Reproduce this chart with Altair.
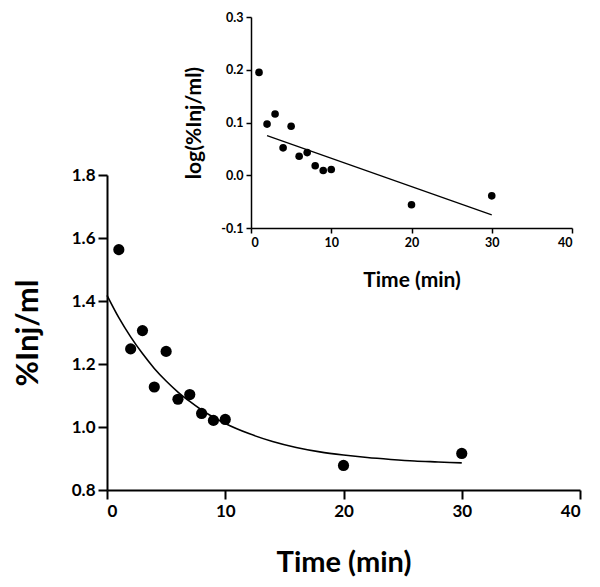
import altair as alt
import pandas as pd

# Main panel data
main_t = [1, 2, 3, 4, 5, 6, 7, 8, 9, 10, 20, 30]
main_v = [1.563, 1.248, 1.306, 1.127, 1.240, 1.088, 1.103, 1.043, 1.021, 1.024, 0.878, 0.916]
# Fitted decay curve
curve_t = [0, 1, 2, 3, 4, 5, 6, 7, 8, 9, 10, 12, 14, 16, 18, 20, 22, 24, 26, 28, 30]
curve_v = [1.418, 1.347, 1.286, 1.233, 1.186, 1.146, 1.111, 1.081, 1.054, 1.031, 1.011,
           0.979, 0.954, 0.935, 0.921, 0.911, 0.903, 0.897, 0.892, 0.889, 0.886]

# Inset data
inset_t = [1, 2, 3, 4, 5, 6, 7, 8, 9, 10, 20, 30]
inset_v = [0.195, 0.097, 0.116, 0.052, 0.093, 0.036, 0.043, 0.018, 0.009, 0.011, -0.056, -0.039]
line_t = [2, 30]
line_v = [0.075, -0.075]

x_ticks = [0, 10, 20, 30, 40]
main_y_ticks = [0.8, 1.0, 1.2, 1.4, 1.6, 1.8]
inset_y_ticks = [-0.1, 0.0, 0.1, 0.2, 0.3]

FONT = "Lato"
W = 473
H = 473

main_df = pd.DataFrame({"t": main_t, "v": main_v})
curve_df = pd.DataFrame({"t": curve_t, "v": curve_v})
inset_df = pd.DataFrame({"t": inset_t, "v": inset_v})
line_df = pd.DataFrame({"t": line_t, "v": line_v})

main_x_scale = alt.Scale(domain=[0, 40], range=[0, 473], nice=False, zero=False)
main_y_scale = alt.Scale(domain=[0.8, 1.8], range=[473, 158], nice=False, zero=False)
inset_x_scale = alt.Scale(domain=[0, 40], range=[144, 465], nice=False, zero=False)
inset_y_scale = alt.Scale(domain=[-0.1, 0.3], range=[211, 0], nice=False, zero=False)

lab = "datum.value < 0 ? '-' + format(-datum.value, '.1f') : format(datum.value, '.1f')"

main_x_axis = alt.Axis(values=x_ticks, format="d", title="Time (min)", orient="bottom",
                       grid=False, domainWidth=2, tickWidth=2, tickSize=9,
                       domainColor="black", tickColor="black",
                       labelFont=FONT, labelFontSize=17, labelFontWeight="bold",
                       labelColor="black", labelPadding=4,
                       titleFont=FONT, titleFontSize=29, titleFontWeight="bold",
                       titleColor="black", titlePadding=29)
main_y_axis = alt.Axis(values=main_y_ticks, labelExpr=lab, title="%Inj/ml", orient="left",
                       grid=False, domainWidth=2, tickWidth=2, tickSize=9,
                       domainColor="black", tickColor="black",
                       labelFont=FONT, labelFontSize=17, labelFontWeight="bold",
                       labelColor="black", labelPadding=3,
                       titleFont=FONT, titleFontSize=31, titleFontWeight="bold",
                       titleColor="black", titlePadding=27)
inset_x_axis = alt.Axis(values=x_ticks, format="d", title="Time (min)", orient="bottom",
                        offset=-262, grid=False, domainWidth=1.5, tickWidth=1.5, tickSize=5,
                        domainColor="black", tickColor="black",
                        labelFont=FONT, labelFontSize=12.5, labelFontWeight="bold",
                        labelColor="black", labelPadding=3,
                        titleFont=FONT, titleFontSize=21, titleFontWeight="bold",
                        titleColor="black", titlePadding=21)
inset_y_axis = alt.Axis(values=inset_y_ticks, labelExpr=lab, title="log(%Inj/ml)", orient="left",
                        offset=-144, grid=False, domainWidth=1.5, tickWidth=1.5, tickSize=5,
                        domainColor="black", tickColor="black",
                        labelFont=FONT, labelFontSize=12.5, labelFontWeight="bold",
                        labelColor="black", labelPadding=3,
                        titleFont=FONT, titleFontSize=21, titleFontWeight="bold",
                        titleColor="black", titlePadding=16)

main_pts = alt.Chart(main_df).mark_circle(size=125, color="black", opacity=1).encode(
    x=alt.X("t:Q", scale=main_x_scale, axis=main_x_axis),
    y=alt.Y("v:Q", scale=main_y_scale, axis=main_y_axis),
)
main_curve = alt.Chart(curve_df).mark_line(color="black", strokeWidth=1.6, interpolate="monotone").encode(
    x=alt.X("t:Q", scale=main_x_scale, axis=None),
    y=alt.Y("v:Q", scale=main_y_scale, axis=None),
)
inset_pts = alt.Chart(inset_df).mark_circle(size=58, color="black", opacity=1).encode(
    x=alt.X("t:Q", scale=inset_x_scale, axis=inset_x_axis),
    y=alt.Y("v:Q", scale=inset_y_scale, axis=inset_y_axis),
)
inset_line = alt.Chart(line_df).mark_line(color="black", strokeWidth=1.2).encode(
    x=alt.X("t:Q", scale=inset_x_scale, axis=None),
    y=alt.Y("v:Q", scale=inset_y_scale, axis=None),
)

chart = alt.layer(main_pts, main_curve, inset_pts, inset_line).resolve_scale(
    x="independent", y="independent"
).resolve_axis(
    x="independent", y="independent"
).properties(
    width=W, height=H,
    autosize=alt.AutoSizeParams(type="none"),
    padding={"left": 99, "top": 9, "right": 12, "bottom": 89},
    background="white",
).configure_view(stroke=None)

chart.save("out.html", embed_options={"renderer": "svg", "actions": False})
